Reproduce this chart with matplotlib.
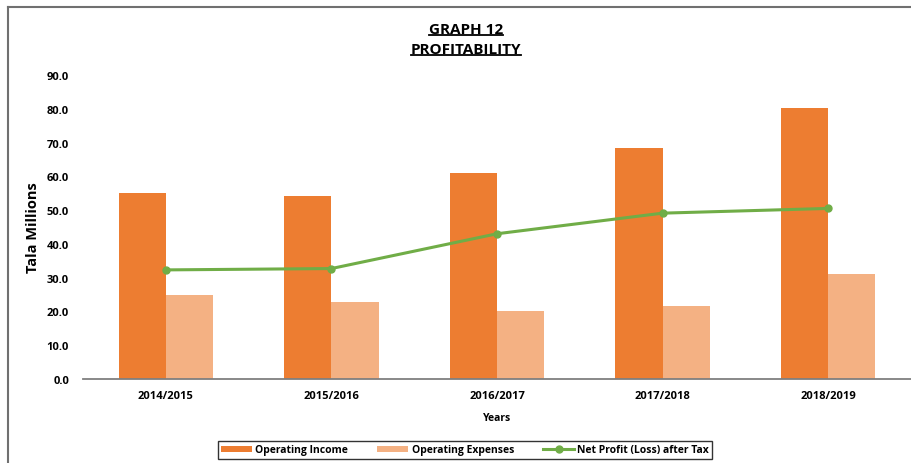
import numpy as np
import matplotlib.pyplot as plt
from matplotlib.lines import Line2D

years = ["2014/2015", "2015/2016", "2016/2017", "2017/2018", "2018/2019"]
operating_income = [55.1, 54.3, 61.0, 68.5, 80.3]
operating_expenses = [25.0, 22.8, 20.1, 21.6, 31.1]
net_profit = [32.3, 32.7, 43.0, 49.1, 50.5]
yticks = [0, 10, 20, 30, 40, 50, 60, 70, 80, 90]

plt.rcParams['font.family'] = ['Open Sans', 'DejaVu Sans']
plt.rcParams['font.weight'] = 'bold'

W, H = 911, 464
fig = plt.figure(figsize=(W / 100, H / 100), dpi=100)
ax = fig.add_axes([83 / W, (H - 380) / H, 828 / W, 304 / H])

x = np.arange(len(years))
bw = 0.285
b1 = ax.bar(x - bw / 2, operating_income, bw, color="#ED7D31", label="Operating Income")
b2 = ax.bar(x + bw / 2, operating_expenses, bw, color="#F4B183", label="Operating Expenses")
l1, = ax.plot(x, net_profit, color="#70AD47", lw=2.2, marker="o", ms=5,
              label="Net Profit (Loss) after Tax")

ax.set_xlim(-0.5, len(years) - 0.5)
ax.set_ylim(0, 90)
ax.set_yticks(yticks)
ax.set_yticklabels(["%.1f" % v for v in yticks], fontsize=8, fontweight='bold')
ax.set_xticks(x)
ax.set_xticklabels(years, fontsize=8, fontweight='bold')
ax.tick_params(axis='y', length=0, pad=10)
ax.tick_params(axis='x', length=0, pad=8)
for s in ["top", "right", "left"]:
    ax.spines[s].set_visible(False)
ax.spines["bottom"].set_color("#7f7f7f")
ax.spines["bottom"].set_linewidth(1.3)

ax.set_ylabel("Tala Millions", fontsize=10.5, fontweight='bold', labelpad=5)
ax.set_xlabel("Years", fontsize=7.5, fontweight='bold', labelpad=8)

# title with underline
t1 = fig.text(466 / W, 1 - 30 / H, "GRAPH 12", ha='center', va='center',
              fontsize=11, fontweight='bold')
t2 = fig.text(466 / W, 1 - 50 / H, "PROFITABILITY", ha='center', va='center',
              fontsize=11, fontweight='bold')
fig.canvas.draw()
r = fig.canvas.get_renderer()
for t in (t1, t2):
    bb = t.get_window_extent(r)
    yy = bb.y0 + 1
    fig.add_artist(Line2D([bb.x0 / W, bb.x1 / W], [yy / H, yy / H], color='black', lw=1.3))

# outer frame (top and left only)
fig.add_artist(Line2D([8 / W, 1], [1 - 8 / H, 1 - 8 / H], color="#707070", lw=1.5))
fig.add_artist(Line2D([8 / W, 8 / W], [0, 1 - 8 / H], color="#707070", lw=1.5))

leg = fig.legend([b1, b2, l1], [b1.get_label(), b2.get_label(), l1.get_label()],
                 loc='center', bbox_to_anchor=(465 / W, 1 - 451 / H), ncol=3,
                 fontsize=7.5, frameon=True, fancybox=False, handlelength=3.0,
                 handleheight=0.5, columnspacing=2.8, handletextpad=0.3,
                 borderpad=0.3, borderaxespad=0)
leg.get_frame().set_edgecolor('black')
leg.get_frame().set_linewidth(1.0)
for txt in leg.get_texts():
    txt.set_fontweight('bold')

fig.savefig("out.png", dpi=100)
